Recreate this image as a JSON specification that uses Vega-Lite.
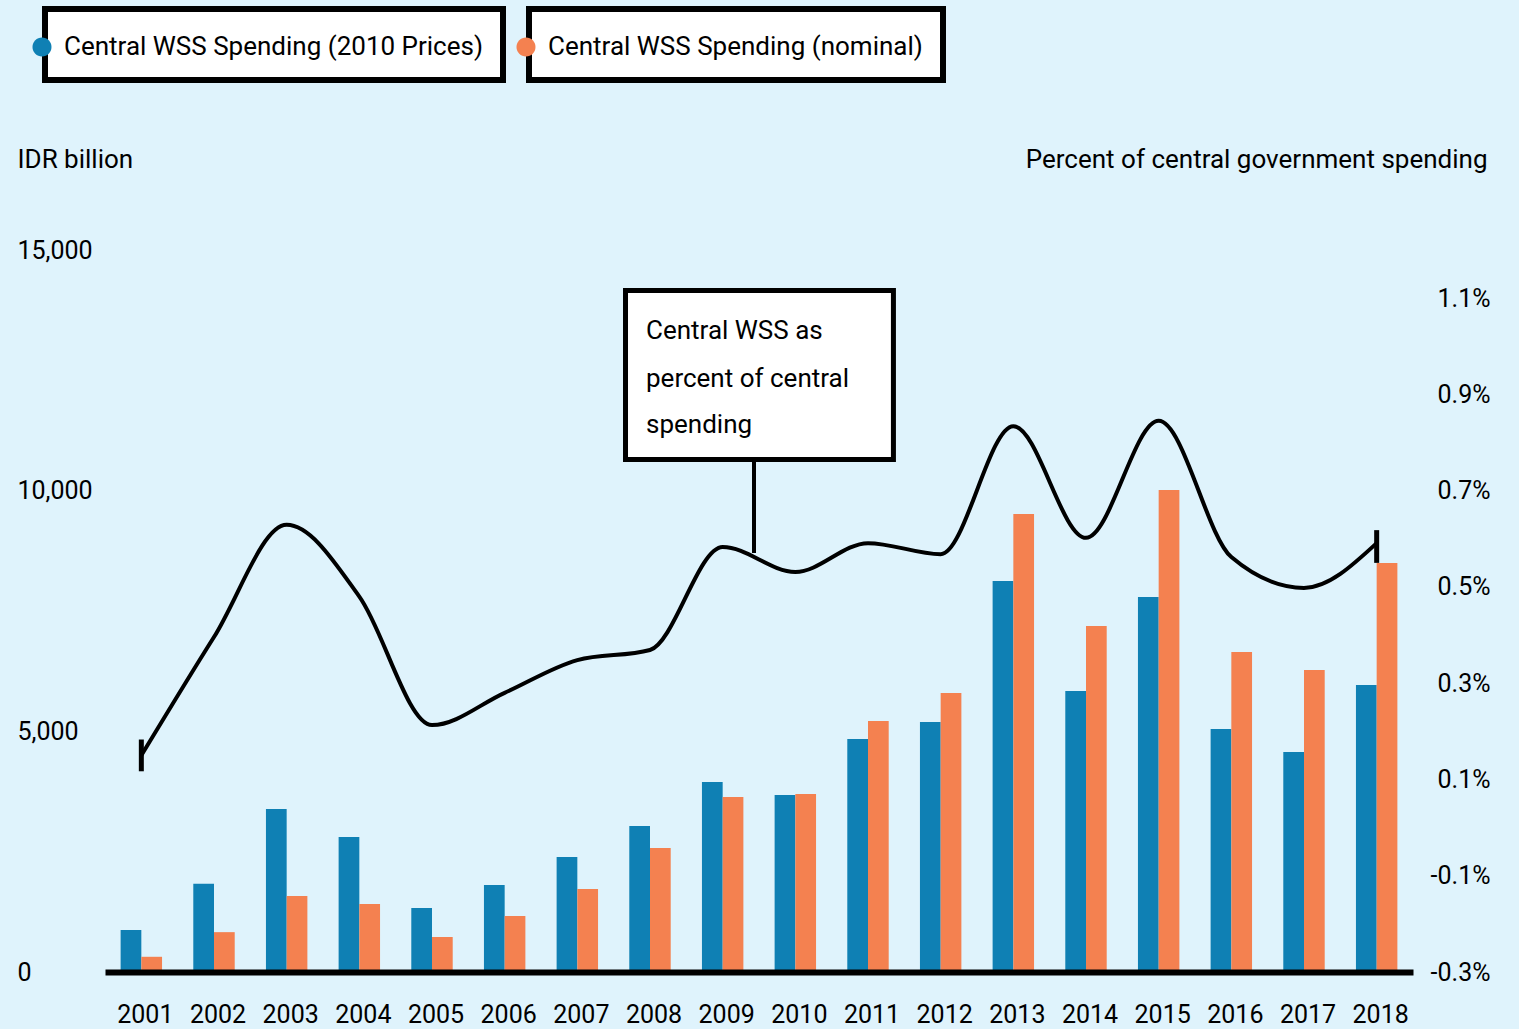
{
  "$schema": "https://vega.github.io/schema/vega-lite/v6.json",
  "width": 1308,
  "height": 722,
  "autosize": {"type": "none"},
  "padding": {"left": 105, "top": 250, "right": 106, "bottom": 57},
  "background": "#dff3fc",
  "config": {
    "view": {"stroke": null},
    "font": "Roboto",
    "axis": {"labelFont": "Roboto", "titleFont": "Roboto", "labelColor": "#000", "titleColor": "#000", "grid": false, "ticks": false, "tickSize": 0, "domain": false, "titleFontWeight": "normal"},
    "legend": {"labelFont": "Roboto", "labelColor": "#000"}
  },
  "datasets": {
    "bars": [
      {"year": 2001, "series": "Central WSS Spending (2010 Prices)", "value": 873},
      {"year": 2002, "series": "Central WSS Spending (2010 Prices)", "value": 1833},
      {"year": 2003, "series": "Central WSS Spending (2010 Prices)", "value": 3387},
      {"year": 2004, "series": "Central WSS Spending (2010 Prices)", "value": 2805},
      {"year": 2005, "series": "Central WSS Spending (2010 Prices)", "value": 1330},
      {"year": 2006, "series": "Central WSS Spending (2010 Prices)", "value": 1808},
      {"year": 2007, "series": "Central WSS Spending (2010 Prices)", "value": 2390},
      {"year": 2008, "series": "Central WSS Spending (2010 Prices)", "value": 3034},
      {"year": 2009, "series": "Central WSS Spending (2010 Prices)", "value": 3948},
      {"year": 2010, "series": "Central WSS Spending (2010 Prices)", "value": 3678},
      {"year": 2011, "series": "Central WSS Spending (2010 Prices)", "value": 4842},
      {"year": 2012, "series": "Central WSS Spending (2010 Prices)", "value": 5195},
      {"year": 2013, "series": "Central WSS Spending (2010 Prices)", "value": 8125},
      {"year": 2014, "series": "Central WSS Spending (2010 Prices)", "value": 5839},
      {"year": 2015, "series": "Central WSS Spending (2010 Prices)", "value": 7793},
      {"year": 2016, "series": "Central WSS Spending (2010 Prices)", "value": 5050},
      {"year": 2017, "series": "Central WSS Spending (2010 Prices)", "value": 4572},
      {"year": 2018, "series": "Central WSS Spending (2010 Prices)", "value": 5964},
      {"year": 2001, "series": "Central WSS Spending (nominal)", "value": 316},
      {"year": 2002, "series": "Central WSS Spending (nominal)", "value": 828},
      {"year": 2003, "series": "Central WSS Spending (nominal)", "value": 1579},
      {"year": 2004, "series": "Central WSS Spending (nominal)", "value": 1413},
      {"year": 2005, "series": "Central WSS Spending (nominal)", "value": 727},
      {"year": 2006, "series": "Central WSS Spending (nominal)", "value": 1164},
      {"year": 2007, "series": "Central WSS Spending (nominal)", "value": 1725},
      {"year": 2008, "series": "Central WSS Spending (nominal)", "value": 2577},
      {"year": 2009, "series": "Central WSS Spending (nominal)", "value": 3637},
      {"year": 2010, "series": "Central WSS Spending (nominal)", "value": 3699},
      {"year": 2011, "series": "Central WSS Spending (nominal)", "value": 5216},
      {"year": 2012, "series": "Central WSS Spending (nominal)", "value": 5798},
      {"year": 2013, "series": "Central WSS Spending (nominal)", "value": 9517},
      {"year": 2014, "series": "Central WSS Spending (nominal)", "value": 7190},
      {"year": 2015, "series": "Central WSS Spending (nominal)", "value": 10016},
      {"year": 2016, "series": "Central WSS Spending (nominal)", "value": 6650},
      {"year": 2017, "series": "Central WSS Spending (nominal)", "value": 6276},
      {"year": 2018, "series": "Central WSS Spending (nominal)", "value": 8499}
    ],
    "share": [
      {"year": 2001, "pct": 0.15},
      {"year": 2002, "pct": 0.396},
      {"year": 2003, "pct": 0.629},
      {"year": 2004, "pct": 0.48},
      {"year": 2005, "pct": 0.213},
      {"year": 2006, "pct": 0.28},
      {"year": 2007, "pct": 0.348},
      {"year": 2008, "pct": 0.369},
      {"year": 2009, "pct": 0.583},
      {"year": 2010, "pct": 0.531},
      {"year": 2011, "pct": 0.591},
      {"year": 2012, "pct": 0.568},
      {"year": 2013, "pct": 0.834},
      {"year": 2014, "pct": 0.602},
      {"year": 2015, "pct": 0.845},
      {"year": 2016, "pct": 0.562},
      {"year": 2017, "pct": 0.498},
      {"year": 2018, "pct": 0.591}
    ],
    "ends": [
      {"year": 2001, "pct": 0.117, "pct2": 0.183},
      {"year": 2018, "pct": 0.55, "pct2": 0.618}
    ],
    "boxes": [
      {"x1": 2007.663, "x2": 2011.35, "y1": 10648, "y2": 14159}
    ],
    "connector": [
      {"x": 2009.431, "y1": 8705, "y2": 10620}
    ],
    "notes": [
      {"x": 2007.945, "y": 13160, "t": "Central WSS as"},
      {"x": 2007.945, "y": 12160, "t": "percent of central"},
      {"x": 2007.945, "y": 11190, "t": "spending"}
    ]
  },
  "layer": [
    {
      "data": {"name": "bars"},
      "encoding": {
        "x": {
          "field": "year", "type": "ordinal",
          "scale": {"paddingInner": 0.43, "paddingOuter": 0.215},
          "axis": {"title": null, "domain": true, "domainColor": "#000", "domainWidth": 6, "labelFontSize": 25, "labelBaseline": "alphabetic", "labelPadding": 50, "labelOffset": 4, "labelAngle": 0, "zindex": 1}
        },
        "xOffset": {
          "field": "series", "type": "nominal",
          "scale": {"domain": ["Central WSS Spending (2010 Prices)", "Central WSS Spending (nominal)"], "paddingInner": 0, "paddingOuter": 0}
        },
        "y": {
          "field": "value", "type": "quantitative",
          "scale": {"domain": [0, 15000], "nice": false},
          "axis": {"orient": "left", "values": [0, 5000, 10000, 15000], "format": ",d", "labelFontSize": 25, "labelAlign": "left", "labelPadding": 88, "labelBaseline": "middle", "title": "IDR billion", "titleAngle": 0, "titleAlign": "left", "titleBaseline": "alphabetic", "titleX": -88, "titleY": -83, "titleFontSize": 26}
        }
      },
      "layer": [
        {
          "transform": [{"filter": "datum.series === 'Central WSS Spending (2010 Prices)'"}],
          "mark": {"type": "bar"},
          "encoding": {
            "color": {
              "field": "series", "type": "nominal",
              "scale": {"range": ["#0f80b4"]},
              "legend": {"title": null, "orient": "none", "legendX": -60, "legendY": -241, "padding": 20, "strokeColor": "#000", "fillColor": "#fff", "symbolType": "M -0.528,0 A 0.528,0.528 0 1,0 0.528,0 A 0.528,0.528 0 1,0 -0.528,0 Z", "symbolSize": 1296, "symbolStrokeWidth": 0, "symbolOffset": -41, "labelFontSize": 26, "labelOffset": 4, "labelLimit": 800,
                "encode": {"legend": {"update": {"strokeWidth": {"value": 6}}}}}
            }
          }
        },
        {
          "transform": [{"filter": "datum.series === 'Central WSS Spending (nominal)'"}],
          "mark": {"type": "bar"},
          "encoding": {
            "color": {
              "field": "series", "type": "nominal",
              "scale": {"range": ["#f48150"]},
              "legend": {"title": null, "orient": "none", "legendX": 424, "legendY": -241, "padding": 20, "strokeColor": "#000", "fillColor": "#fff", "symbolType": "M -0.528,0 A 0.528,0.528 0 1,0 0.528,0 A 0.528,0.528 0 1,0 -0.528,0 Z", "symbolSize": 1296, "symbolStrokeWidth": 0, "symbolOffset": -41, "labelFontSize": 26, "labelOffset": 4, "labelLimit": 800,
                "encode": {"legend": {"update": {"strokeWidth": {"value": 6}}}}}
            }
          }
        }
      ],
      "resolve": {"scale": {"color": "independent"}}
    },
    {
      "encoding": {
        "x": {"field": "year", "type": "ordinal", "scale": {"type": "point", "padding": 0.5}, "axis": null},
        "y": {
          "field": "pct", "type": "quantitative",
          "scale": {"domain": [-0.3, 1.2], "nice": false, "zero": false},
          "axis": {"orient": "right", "values": [-0.3, -0.1, 0.1, 0.3, 0.5, 0.7, 0.9, 1.1], "labelExpr": "(datum.value < 0 ? '-' : '') + format(abs(datum.value), '.1f') + '%'", "labelFontSize": 25, "labelAlign": "right", "labelPadding": 77, "labelBaseline": "middle", "title": "Percent of central government spending", "titleAngle": 0, "titleAlign": "right", "titleBaseline": "alphabetic", "titleX": 74, "titleY": -83, "titleFontSize": 26}
        }
      },
      "layer": [
        {
          "data": {"name": "share"},
          "mark": {"type": "line", "interpolate": "monotone", "color": "#000", "strokeWidth": 4}
        },
        {
          "data": {"name": "ends"},
          "mark": {"type": "rule", "color": "#000", "strokeWidth": 5},
          "encoding": {"y2": {"field": "pct2"}}
        }
      ]
    },
    {
      "layer": [
        {
          "data": {"name": "connector"},
          "mark": {"type": "rule", "color": "#000", "strokeWidth": 4},
          "encoding": {
            "x": {"field": "x", "type": "quantitative", "scale": {"domain": [2000.5, 2018.5], "nice": false, "zero": false}, "axis": null},
            "y": {"field": "y1", "type": "quantitative", "scale": {"domain": [0, 15000], "nice": false}, "axis": null},
            "y2": {"field": "y2"}
          }
        },
        {
          "data": {"name": "boxes"},
          "mark": {"type": "rect", "fill": "#fff", "stroke": "#000", "strokeWidth": 5},
          "encoding": {
            "x": {"field": "x1", "type": "quantitative", "scale": {"domain": [2000.5, 2018.5], "nice": false, "zero": false}, "axis": null},
            "x2": {"field": "x2"},
            "y": {"field": "y1", "type": "quantitative", "scale": {"domain": [0, 15000], "nice": false}, "axis": null},
            "y2": {"field": "y2"}
          }
        },
        {
          "data": {"name": "notes"},
          "mark": {"type": "text", "align": "left", "baseline": "alphabetic", "fontSize": 26, "font": "Roboto", "color": "#000"},
          "encoding": {
            "x": {"field": "x", "type": "quantitative", "scale": {"domain": [2000.5, 2018.5], "nice": false, "zero": false}, "axis": null},
            "y": {"field": "y", "type": "quantitative", "scale": {"domain": [0, 15000], "nice": false}, "axis": null},
            "text": {"field": "t"}
          }
        }
      ]
    }
  ],
  "resolve": {"scale": {"x": "independent", "y": "independent"}}
}
